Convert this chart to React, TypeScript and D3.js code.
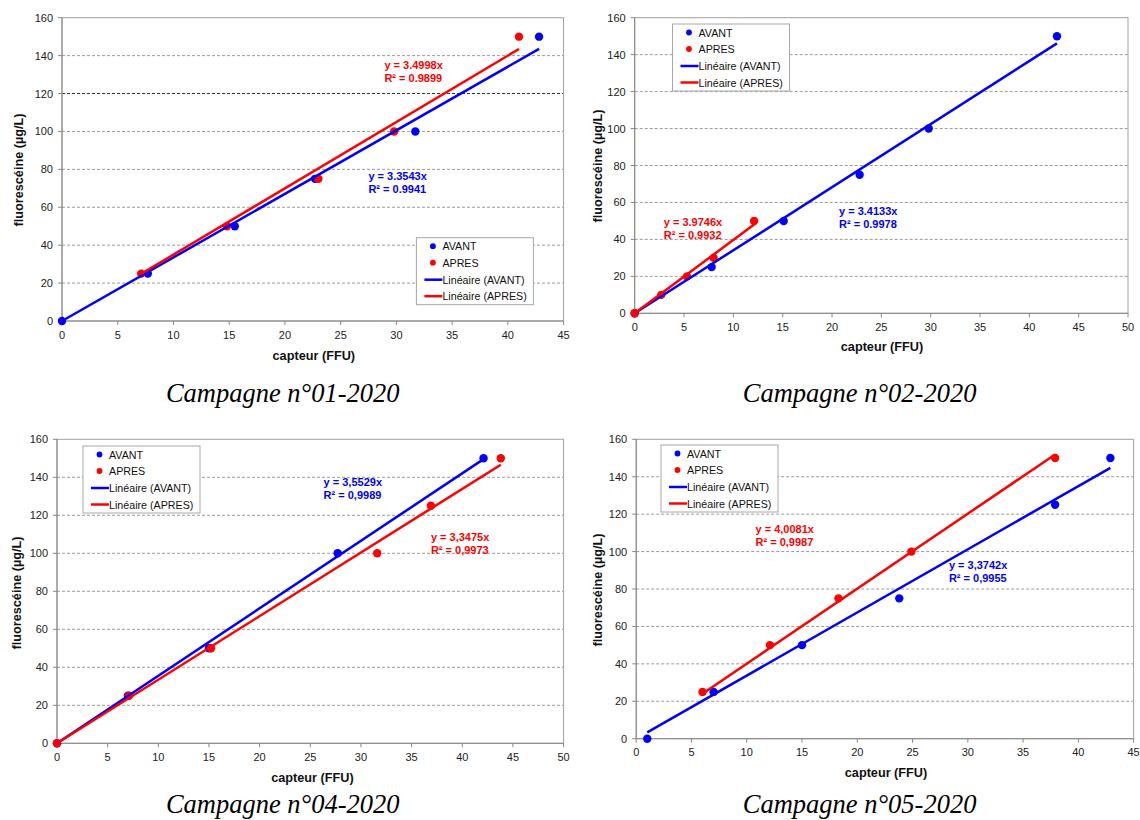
import React from "react";
import * as d3 from "d3";

type Pt = [number, number];

// ---- Data ----
const yTicks = [0, 20, 40, 60, 80, 100, 120, 140, 160];
const xTicks45 = [0, 5, 10, 15, 20, 25, 30, 35, 40, 45];
const xTicks50 = [0, 5, 10, 15, 20, 25, 30, 35, 40, 45, 50];

const seriesNames = ["AVANT", "APRES"];
const trendNames = ["Linéaire (AVANT)", "Linéaire (APRES)"];

// Campagne n°01-2020
const c1Avant: Pt[] = [[0, 0], [7.7, 25], [15.5, 50], [22.7, 75], [31.7, 100], [42.8, 150]];
const c1Apres: Pt[] = [[7.1, 25], [14.8, 50], [23.0, 75], [29.8, 100], [41.0, 150]];
const c1Slopes = [3.3543, 3.4998];
const c1Eq = [["y = 3.3543x", "R² = 0.9941"], ["y = 3.4998x", "R² = 0.9899"]];

// Campagne n°02-2020
const c2Avant: Pt[] = [[0, 0], [7.8, 25], [15.1, 50], [22.8, 75], [29.8, 100], [42.8, 150]];
const c2Apres: Pt[] = [[0, 0], [2.7, 10], [5.3, 20], [8.0, 30], [12.1, 50]];
const c2Slopes = [3.4133, 3.9746];
const c2Eq = [["y = 3.4133x", "R² = 0.9978"], ["y = 3.9746x", "R² = 0.9932"]];

// Campagne n°04-2020
const c4Avant: Pt[] = [[0, 0], [7.0, 25], [15.0, 50], [27.7, 100], [42.1, 150]];
const c4Apres: Pt[] = [[0, 0], [7.1, 25], [15.2, 50], [31.6, 100], [36.9, 125], [43.8, 150]];
const c4Slopes = [3.5529, 3.3475];
const c4Eq = [["y = 3,5529x", "R² = 0,9989"], ["y = 3,3475x", "R² = 0,9973"]];

// Campagne n°05-2020
const c5Avant: Pt[] = [[1.0, 0], [7.0, 25], [15.0, 50], [23.8, 75], [37.9, 125], [42.9, 150]];
const c5Apres: Pt[] = [[6.0, 25], [12.1, 50], [18.3, 75], [24.9, 100], [37.9, 150]];
const c5Slopes = [3.3742, 4.0081];
const c5Eq = [["y = 3,3742x", "R² = 0,9955"], ["y = 4,0081x", "R² = 0,9987"]];

const captions = ["Campagne n°01-2020", "Campagne n°02-2020", "Campagne n°04-2020", "Campagne n°05-2020"];

// ---- Layout ----
const BLUE = "#0000ff";
const RED = "#ff0000";
const SANS = "'Liberation Sans', Arial, sans-serif";
const SERIF = "'Liberation Serif', 'Times New Roman', serif";

const panels = [
  {
    avant: c1Avant, apres: c1Apres, slopes: c1Slopes, eq: c1Eq, caption: captions[0],
    left: 62, right: 563.6, top: 17.7, bottom: 321, xTicks: xTicks45,
    legend: { x: 416.4, y: 237.7 },
    eqPos: [{ dx: 306.4, dy: 162.3 }, { dx: 322.4, dy: 51.3 }],
    yTitle: { x: 18, y: 170 }, xTitle: { x: 313.8, y: 360 }, cap: { x: 282.7, y: 402 },
    darkGrid: 120,
  },
  {
    avant: c2Avant, apres: c2Apres, slopes: c2Slopes, eq: c2Eq, caption: captions[1],
    left: 634.7, right: 1128, top: 17.7, bottom: 313.3, xTicks: xTicks50,
    legend: { x: 672.5, y: 24 },
    eqPos: [{ dx: 204.3, dy: 197 }, { dx: 29.1, dy: 208 }],
    yTitle: { x: 597, y: 166 }, xTitle: { x: 882, y: 351 }, cap: { x: 859.6, y: 402 },
    darkGrid: -1,
  },
  {
    avant: c4Avant, apres: c4Apres, slopes: c4Slopes, eq: c4Eq, caption: captions[2],
    left: 57, right: 563.6, top: 439.3, bottom: 743.3, xTicks: xTicks50,
    legend: { x: 83, y: 446 },
    eqPos: [{ dx: 266.6, dy: 46.4 }, { dx: 373.9, dy: 101.4 }],
    yTitle: { x: 16.4, y: 593 }, xTitle: { x: 312.4, y: 782 }, cap: { x: 282.7, y: 813 },
    darkGrid: -1,
  },
  {
    avant: c5Avant, apres: c5Apres, slopes: c5Slopes, eq: c5Eq, caption: captions[3],
    left: 636.2, right: 1133.6, top: 439.3, bottom: 738.7, xTicks: xTicks45,
    legend: { x: 661, y: 445 },
    eqPos: [{ dx: 312.7, dy: 129.7 }, { dx: 119.3, dy: 93.7 }],
    yTitle: { x: 597, y: 590 }, xTitle: { x: 886, y: 777 }, cap: { x: 859.6, y: 813 },
    darkGrid: -1,
  },
];

function Panel({ cfg }: { cfg: any }) {
  const xMax = cfg.xTicks[cfg.xTicks.length - 1];
  const x = d3.scaleLinear().domain([0, xMax]).range([cfg.left, cfg.right]);
  const y = d3.scaleLinear().domain([0, 160]).range([cfg.bottom, cfg.top]);
  const line = d3.line<Pt>().x((d) => x(d[0])).y((d) => y(d[1]));
  const trend = (pts: Pt[], slope: number): Pt[] => {
    const [x0, x1] = d3.extent(pts, (p) => p[0]) as [number, number];
    return [[x0, slope * x0], [x1, slope * x1]];
  };
  const series = [
    { pts: cfg.avant as Pt[], color: BLUE },
    { pts: cfg.apres as Pt[], color: RED },
  ];
  const lg = cfg.legend;
  const lgW = 117;
  const lgH = 67;
  const rowY = [8.5, 25, 42, 58.5];
  return (
    <g>
      {/* grid */}
      {yTicks.filter((t) => t > 0 && t < 160).map((t) => (
        <line key={"g" + t} x1={cfg.left} x2={cfg.right} y1={y(t)} y2={y(t)}
          stroke={t === cfg.darkGrid ? "#333" : "#9a9a9a"} strokeWidth={1} strokeDasharray="3,2" />
      ))}
      {/* frame */}
      <rect x={cfg.left} y={cfg.top} width={cfg.right - cfg.left} height={cfg.bottom - cfg.top}
        fill="none" stroke="#a0a0a0" strokeWidth={1} />
      <line x1={cfg.left} x2={cfg.left} y1={cfg.top} y2={cfg.bottom} stroke="#888" />
      <line x1={cfg.left} x2={cfg.right} y1={cfg.bottom} y2={cfg.bottom} stroke="#888" />
      {/* y ticks */}
      {yTicks.map((t) => (
        <g key={"yt" + t}>
          <line x1={cfg.left - 4} x2={cfg.left} y1={y(t)} y2={y(t)} stroke="#888" />
          <text x={cfg.left - 9} y={y(t) + 4} textAnchor="end" fontFamily={SANS} fontSize={11} fill="#222">{t}</text>
        </g>
      ))}
      {/* x ticks */}
      {cfg.xTicks.map((t: number) => (
        <g key={"xt" + t}>
          <line x1={x(t)} x2={x(t)} y1={cfg.bottom} y2={cfg.bottom + 4} stroke="#888" />
          <text x={x(t)} y={cfg.bottom + 17.5} textAnchor="middle" fontFamily={SANS} fontSize={11} fill="#222">{t}</text>
        </g>
      ))}
      {/* points */}
      {series.map((s, i) => (
        <g key={"p" + i}>
          {s.pts.map((p, j) => (
            <circle key={j} cx={x(p[0])} cy={y(p[1])} r={4.2} fill={s.color} />
          ))}
        </g>
      ))}
      {/* trendlines */}
      {series.map((s, i) => (
        <path key={"t" + i} d={line(trend(s.pts, cfg.slopes[i])) || ""} stroke={s.color} strokeWidth={2.5} fill="none" />
      ))}
      {/* equations */}
      {series.map((s, i) => (
        <text key={"e" + i} fontFamily={SANS} fontSize={11} fontWeight="bold" fill={s.color}>
          <tspan x={cfg.left + cfg.eqPos[i].dx} y={cfg.top + cfg.eqPos[i].dy}>{cfg.eq[i][0]}</tspan>
          <tspan x={cfg.left + cfg.eqPos[i].dx} y={cfg.top + cfg.eqPos[i].dy + 12.8}>{cfg.eq[i][1]}</tspan>
        </text>
      ))}
      {/* legend */}
      <rect x={lg.x} y={lg.y} width={lgW} height={lgH} fill="#fff" stroke="#a8a8a8" strokeWidth={1} />
      {series.map((s, i) => (
        <g key={"lp" + i}>
          <circle cx={lg.x + 16.5} cy={lg.y + rowY[i]} r={2.9} fill={s.color} />
          <text x={lg.x + 26} y={lg.y + rowY[i] + 4} fontFamily={SANS} fontSize={10.7} fill="#111">{seriesNames[i]}</text>
        </g>
      ))}
      {series.map((s, i) => (
        <g key={"ll" + i}>
          <line x1={lg.x + 8} x2={lg.x + 26} y1={lg.y + rowY[i + 2]} y2={lg.y + rowY[i + 2]} stroke={s.color} strokeWidth={2.5} />
          <text x={lg.x + 26} y={lg.y + rowY[i + 2] + 4} fontFamily={SANS} fontSize={10.7} fill="#111">{trendNames[i]}</text>
        </g>
      ))}
      {/* axis titles */}
      <text transform={`translate(${cfg.yTitle.x + 4.5},${cfg.yTitle.y}) rotate(-90)`} textAnchor="middle"
        fontFamily={SANS} fontSize={12.7} fontWeight="bold" fill="#111">fluorescéine (µg/L)</text>
      <text x={cfg.xTitle.x} y={cfg.xTitle.y} textAnchor="middle" fontFamily={SANS} fontSize={12.7} fontWeight="bold" fill="#111">capteur (FFU)</text>
      {/* caption */}
      <text x={cfg.cap.x} y={cfg.cap.y} textAnchor="middle" fontFamily={SERIF} fontStyle="italic" fontSize={26.5} fill="#000">{cfg.caption}</text>
    </g>
  );
}

export default function App() {
  return (
    <div style={{ position: "absolute", left: 0, top: 0, width: 1140, height: 820, background: "#fff" }}>
      <svg width={1140} height={820} viewBox="0 0 1140 820" style={{ display: "block" }}>
        <rect x={0} y={0} width={1140} height={820} fill="#fff" />
        {panels.map((p, i) => (
          <Panel key={i} cfg={p} />
        ))}
      </svg>
    </div>
  );
}
